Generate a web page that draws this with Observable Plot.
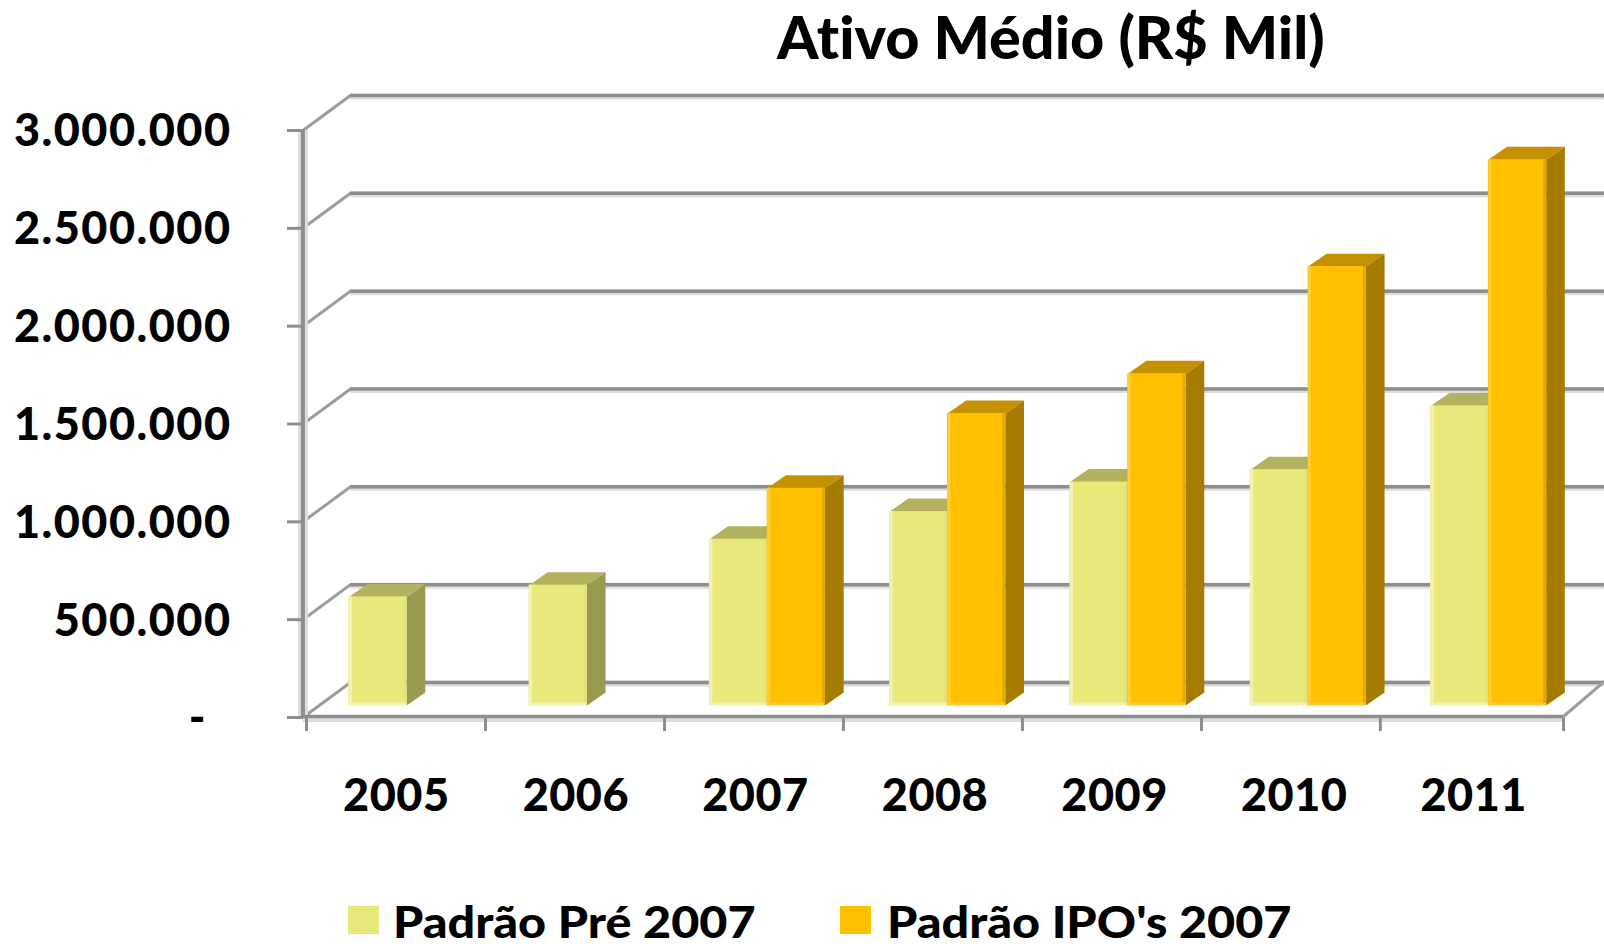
<!DOCTYPE html>
<html lang="pt">
<head>
<meta charset="utf-8">
<script src="https://cdn.jsdelivr.net/npm/d3@7"></script>
<script src="https://cdn.jsdelivr.net/npm/@observablehq/plot@0.6"></script>
<style>
html,body{margin:0;padding:0;background:#fff;width:1604px;height:944px;overflow:hidden}
body{font-family:Lato,"Open Sans",sans-serif;color:#000;font-variant-ligatures:none}
#title{height:90px;position:relative}
#title span{position:absolute;left:777px;top:1px;font-size:59.3px;line-height:70px;font-weight:900;white-space:nowrap}
#chart{height:800px}
#chart svg{display:block;background:#fff;font-variant-ligatures:none}
#chart svg [aria-label="y-axis tick label"]{letter-spacing:1.5px}
#chart svg [aria-label="x-axis tick label"]{letter-spacing:0.5px}
#legend{height:54px;position:relative}
.sw{position:absolute;top:16px;width:31px;height:28px}
.lb{position:absolute;top:5px;font-size:44px;line-height:52px;font-weight:900;white-space:nowrap;transform-origin:0 50%;transform:scaleX(1.103)}
</style>
</head>
<body>
<div id="title"><span>Ativo Médio (R$ Mil)</span></div>
<div id="chart"></div>
<div id="legend">
  <div class="sw" style="left:348px;background:#E9E87A"></div><div class="lb" id="l0" style="left:393px"></div>
  <div class="sw" style="left:840px;background:#FFC000"></div><div class="lb" id="l1" style="left:887px"></div>
</div>
<script>
const years = ["2005","2006","2007","2008","2009","2010","2011"];
const pre = [555000,615000,850000,991000,1142000,1205000,1531000];
const ipo = [null,null,1110000,1492000,1695000,2243000,2789000];
const seriesNames = ["Padrão Pré 2007","Padrão IPO's 2007"];
const yTicks = [0,500000,1000000,1500000,2000000,2500000,3000000];
const xTickPositions = [0,0.997,1.994,2.99,3.987,4.984,5.98,7];

document.getElementById("l0").textContent = seriesNames[0];
document.getElementById("l1").textContent = seriesNames[1];

// 3-D construction, in scale units
const wallX = 0.245, wallY = 178900, wallEnd = 7.228;
const barStep = 1.004, barStart = 0.2355, barW = 0.322, depthX = 0.104, depthY = 66400;
const yellow = {front:"#E9E87A", side:"#999A50", top:"#B3B25E", edge:"#F2F2B8", right:"#E4E376"};
const orange = {front:"#FFC000", side:"#A67C00", top:"#C49200", edge:"#FFCC33", right:"#E3AB00"};

const fmt = d3.format(",d");
const yLabel = v => v === 0 ? "-\u00a0\u00a0" : fmt(v).replace(/,/g, ".");

const bars = (vals, off) => vals.flatMap((v, i) => v == null ? [] : [{
  i, v, x1: i * barStep + barStart + off * barW, x2: i * barStep + barStart + (off + 1) * barW
}]);
const faces = (list, kind) => list.flatMap(b => {
  const pts = kind === "side"
    ? [[b.x2,0],[b.x2+depthX,depthY],[b.x2+depthX,b.v+depthY],[b.x2,b.v]]
    : [[b.x1,b.v],[b.x2,b.v],[b.x2+depthX,b.v+depthY],[b.x1+depthX,b.v+depthY]];
  return pts.map(([x,y]) => ({x, y, z: b.i}));
});

function barMarks(list, c) {
  const lift = {dy: -12};
  return [
    Plot.line(faces(list,"top"), {x:"x", y:"y", z:"z", fill:c.top, stroke:"none", ...lift}),
    Plot.line(faces(list,"side"), {x:"x", y:"y", z:"z", fill:c.side, stroke:"none", ...lift}),
    Plot.rect(list, {x1:"x1", x2:"x2", y1:0, y2:"v", fill:c.front, ...lift}),
    Plot.ruleX(list, {x:"x1", y1:0, y2:"v", stroke:c.edge, strokeWidth:3, dx:1.5, ...lift}),
    Plot.ruleX(list, {x:"x2", y1:0, y2:"v", stroke:c.right, strokeWidth:3, dx:-1.5, ...lift}),
    Plot.ruleY(list, {x1:"x1", x2:"x2", y:0, stroke:c.edge, strokeWidth:3, dy:-13.5})
  ];
}

const grid = "#8E8E8E", shade = "#DDDDDD";
const labelFont = {fontFamily:"Lato", fontWeight:900, fontSize:45, fill:"#000", stroke:"none"};

const plot = Plot.plot({
  width: 1604, height: 800,
  marginTop: 40, marginBottom: 173, marginLeft: 306, marginRight: 41,
  x: {type:"linear", domain:[0,7]},
  y: {type:"linear", domain:[0,3000000]},
  style: {background:"#fff", overflow:"hidden"},
  marks: [
    // back wall
    Plot.ruleY(yTicks, {y:d => d + wallY, x1:wallX, x2:wallEnd, stroke:shade, strokeWidth:6, dy:1}),
    Plot.ruleY(yTicks, {y:d => d + wallY, x1:wallX, x2:wallEnd, stroke:grid, strokeWidth:3.5}),
    // side wall diagonals
    Plot.link(yTicks, {x1:-0.02, y1:d => d, x2:wallX, y2:d => d + wallY, stroke:"#9C9C9C", strokeWidth:3}),
    Plot.link([0], {x1:7, y1:0, x2:wallEnd, y2:wallY, stroke:"#9C9C9C", strokeWidth:3, dy:-1}),
    // side wall vertical and floor edge
    Plot.ruleX([-0.02], {y1:0, y2:3000000, stroke:shade, strokeWidth:10}),
    Plot.ruleX([-0.02], {y1:0, y2:3000000, stroke:grid, strokeWidth:4}),
    Plot.ruleY([0], {x1:-0.02, x2:7, stroke:shade, strokeWidth:6, dy:1.5}),
    Plot.ruleY([0], {x1:-0.02, x2:7, stroke:grid, strokeWidth:3.5, dy:-1}),
    // axes
    Plot.axisY({ticks:yTicks, tickFormat:() => "", tickSize:16, dx:-3, stroke:grid, strokeWidth:3, label:null}),
    Plot.axisY({ticks:yTicks, tickFormat:yLabel, tickSize:0, tickPadding:75, dy:1.5, label:null, ...labelFont}),
    Plot.axisX({ticks:xTickPositions, tickFormat:() => "", tickSize:14, stroke:grid, strokeWidth:3, label:null}),
    Plot.axisX({ticks:years.map((_, i) => i + 0.5), tickFormat:v => years[v - 0.5], tickSize:0, tickPadding:62,
      label:null, ...labelFont}),
    // bars
    ...barMarks(bars(pre, 0), yellow),
    ...barMarks(bars(ipo, 1), orange)
  ]
});
document.getElementById("chart").append(plot);
</script>
</body>
</html>
